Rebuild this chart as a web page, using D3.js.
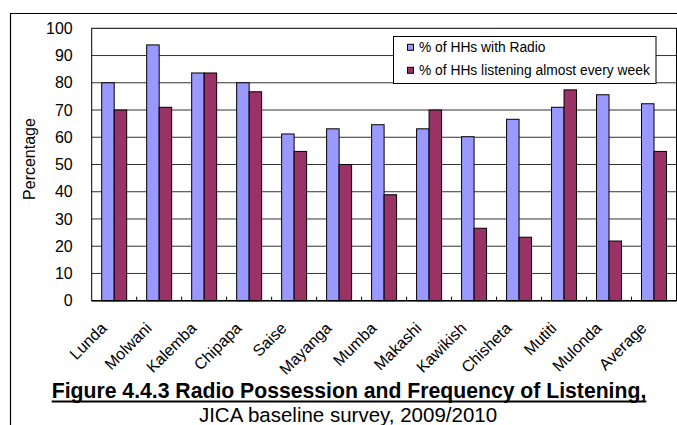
<!DOCTYPE html>
<html>
<head>
<meta charset="utf-8">
<script src="https://cdn.jsdelivr.net/npm/d3@7/dist/d3.min.js"></script>
<style>
  html, body { margin: 0; padding: 0; background: #fff; }
  svg { display: block; font-family: "Liberation Sans", Arial, sans-serif; }
</style>
</head>
<body>
<svg id="chart" width="677" height="425"></svg>
<script>
// Radio possession and weekly listening by village
const categories = ["Lunda", "Molwani", "Kalemba", "Chipapa", "Saise", "Mayanga", "Mumba",
  "Makashi", "Kawikish", "Chisheta", "Mutiti", "Mulonda", "Average"];
const seriesNames = ["% of HHs with Radio", "% of HHs listening almost every week"];
const withRadio = [80.0, 93.9, 83.6, 80.0, 61.2, 63.1, 64.6, 63.1, 60.2, 66.6, 71.0, 75.6, 72.3];
const listeningWeekly = [70.0, 71.0, 83.6, 76.7, 54.8, 50.0, 38.9, 70.0, 26.6, 23.3, 77.4, 21.9, 54.8];
const yTicks = [0, 10, 20, 30, 40, 50, 60, 70, 80, 90, 100];
const colors = ["#9999FF", "#993366"];
const titleText = "Figure 4.4.3 Radio Possession and Frequency of Listening,";
const subtitleText = "JICA baseline survey, 2009/2010";

const svg = d3.select("#chart");
const plot = { left: 91.7, right: 676.5, top: 28.3, bottom: 300.7 };

// Outer frame (top and left edges)
svg.append("path")
  .attr("d", "M10.5,425 V13.5 H677")
  .attr("fill", "none").attr("stroke", "#000").attr("stroke-width", 1.2);

const x = d3.scaleBand().domain(categories).range([plot.left, plot.right]).padding(0);
const xs = d3.scaleBand().domain([0, 1]).range([0, x.bandwidth()]).paddingInner(0).paddingOuter(0.8);
const y = d3.scaleLinear().domain([0, 100]).range([plot.bottom, plot.top]);

// Horizontal gridlines
svg.append("g")
  .selectAll("line").data(yTicks.filter(t => t > 0 && t < 100)).join("line")
  .attr("x1", plot.left).attr("x2", plot.right)
  .attr("y1", d => y(d)).attr("y2", d => y(d))
  .attr("stroke", "#333").attr("stroke-width", 1);

// Plot area border
svg.append("rect")
  .attr("x", plot.left).attr("y", plot.top)
  .attr("width", plot.right - plot.left).attr("height", plot.bottom - plot.top)
  .attr("fill", "none").attr("stroke", "#000").attr("stroke-width", 1);

// Bars
const series = [withRadio, listeningWeekly];
series.forEach((vals, si) => {
  svg.append("g")
    .selectAll("rect").data(vals).join("rect")
    .attr("x", (d, i) => x(categories[i]) + xs(si))
    .attr("y", d => y(d))
    .attr("width", xs.bandwidth())
    .attr("height", d => y(0) - y(d))
    .attr("fill", colors[si])
    .attr("stroke", "#000").attr("stroke-width", 1);
});

// X axis with inward ticks between groups
const xAxis = svg.append("g").attr("transform", `translate(0,${plot.bottom})`);
xAxis.append("line")
  .attr("x1", plot.left).attr("x2", plot.right)
  .attr("stroke", "#000").attr("stroke-width", 1.5);
xAxis.selectAll("line.tick").data(categories.slice(1)).join("line")
  .attr("class", "tick")
  .attr("x1", d => x(d)).attr("x2", d => x(d))
  .attr("y1", 0).attr("y2", -4)
  .attr("stroke", "#000").attr("stroke-width", 1);
xAxis.selectAll("text").data(categories).join("text")
  .attr("transform", d => `translate(${x(d) + x.bandwidth() / 2 - 6.5},28.5) rotate(-45)`)
  .attr("text-anchor", "end")
  .attr("font-size", 16)
  .attr("fill", "#000")
  .text(d => d);

// Y axis labels
const yAxis = d3.axisLeft(y).tickValues(yTicks).tickSize(0).tickPadding(19);
svg.append("g")
  .attr("transform", `translate(${plot.left},0)`)
  .call(yAxis)
  .call(g => g.select(".domain").remove())
  .call(g => g.selectAll("text").attr("font-size", 16).attr("fill", "#000")
    .attr("font-family", "Liberation Sans, Arial, sans-serif"));

svg.append("text")
  .attr("transform", "translate(35,159) rotate(-90)")
  .attr("text-anchor", "middle")
  .attr("font-size", 16)
  .text("Percentage");

// Legend
const legend = svg.append("g");
legend.append("rect")
  .attr("x", 393.5).attr("y", 36.5).attr("width", 262.5).attr("height", 47)
  .attr("fill", "#fff").attr("stroke", "#000").attr("stroke-width", 1);
seriesNames.forEach((name, i) => {
  const cy = 47.3 + i * 23;
  legend.append("rect")
    .attr("x", 407.5).attr("y", cy - 3).attr("width", 6).attr("height", 6)
    .attr("fill", colors[i]).attr("stroke", "#000").attr("stroke-width", 1);
  legend.append("text")
    .attr("x", 419).attr("y", cy + 4.9)
    .attr("font-size", 13.8)
    .text(name);
});

// Caption
const title = svg.append("text")
  .attr("x", 349).attr("y", 397.5)
  .attr("text-anchor", "middle")
  .attr("font-size", 21.2).attr("font-weight", "bold")
  .text(titleText);
const tb = title.node().getBBox();
svg.append("line")
  .attr("x1", tb.x).attr("x2", tb.x + tb.width)
  .attr("y1", 401.5).attr("y2", 401.5)
  .attr("stroke", "#000").attr("stroke-width", 2);

svg.append("text")
  .attr("x", 348).attr("y", 422)
  .attr("text-anchor", "middle")
  .attr("font-size", 20.5)
  .text(subtitleText);
</script>
</body>
</html>
